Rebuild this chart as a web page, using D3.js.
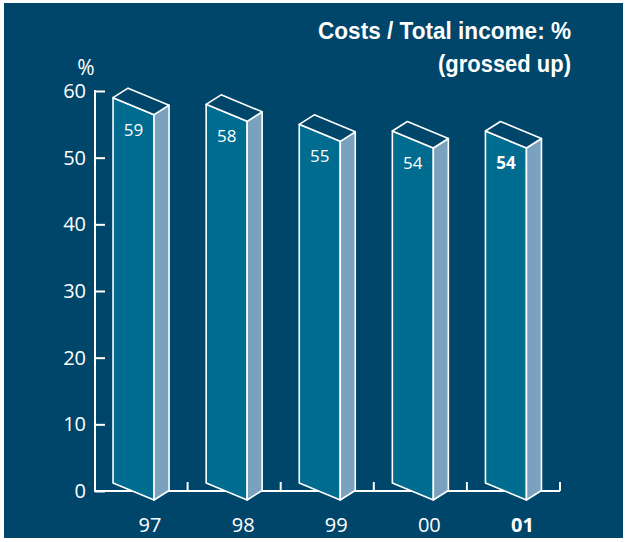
<!DOCTYPE html>
<head>
    <title>Costs / Total income</title>
    <style>
        body{
            margin: 0;
            background: white;
        }
        svg{
            display: block;
        }
    </style>
    <script src="https://d3js.org/d3.v7.min.js"></script>
</head>
<body>
    <svg width="626" height="542"></svg>

    <script>
        // chart data
        var years = ["97", "98", "99", "00", "01"];
        var values = [59, 58, 55, 54, 54];
        var boldYears = ["01"];
        var yTicks = [0, 10, 20, 30, 40, 50, 60];

        var bg = "#00466a";
        var front = "#006c8f";
        var side = "#7aa2bf";
        var font = "'Open Sans', 'Noto Sans', sans-serif";

        var svg = d3.select("svg");

        // dark panel with thin white margin
        svg.append("rect")
            .attr("x", 4).attr("y", 3)
            .attr("width", 619).attr("height", 535)
            .attr("fill", bg);

        var x = d3.scaleBand().domain(years).range([94.5, 560]);
        var y = d3.scaleLinear().domain([0, 60]).range([491, 91]);

        // y axis, ticks point inwards
        var yAxis = svg.append("g")
            .attr("transform", "translate(95,0)")
            .call(d3.axisLeft(y).tickValues(yTicks).tickSizeInner(-10).tickSizeOuter(0).tickPadding(9));
        yAxis.select(".domain").remove();
        yAxis.selectAll(".tick line").attr("stroke", "white").attr("stroke-width", 2);
        yAxis.selectAll(".tick text")
            .attr("fill", "white")
            .style("font-family", font)
            .style("font-size", "20px");
        svg.append("line")
            .attr("x1", 95).attr("x2", 95)
            .attr("y1", y(60) - 1).attr("y2", y(0) + 1)
            .attr("stroke", "white").attr("stroke-width", 2);

        // baseline and category separators
        svg.append("line")
            .attr("x1", 94).attr("x2", x.range()[1])
            .attr("y1", y(0)).attr("y2", y(0))
            .attr("stroke", "white").attr("stroke-width", 2);
        svg.selectAll(".sep")
            .data(years)
            .enter().append("line")
            .attr("x1", d => x(d) + x.bandwidth())
            .attr("x2", d => x(d) + x.bandwidth())
            .attr("y1", y(0)).attr("y2", y(0) - 9)
            .attr("stroke", "white").attr("stroke-width", 2);

        // 3d bars: front width, depth offset, slant of the front face
        var fw = 41, dx = 15, dy = -9.5, slant = 17;
        var bars = svg.selectAll(".bar")
            .data(years.map((d, i) => ({year: d, value: values[i]})))
            .enter().append("g");

        function x0(d){ return x(d.year) + (x.bandwidth() - fw - dx) / 2; }

        bars.append("path")    // front
            .attr("fill", front)
            .attr("d", d => {
                var a = x0(d), t = y(d.value), b = y(0);
                return "M" + a + "," + t + " L" + (a + fw) + "," + (t + slant) +
                    " L" + (a + fw) + "," + (b + 9) + " L" + a + "," + (b - 8) + "Z";
            });
        bars.append("path")    // side
            .attr("fill", side)
            .attr("d", d => {
                var a = x0(d) + fw, t = y(d.value) + slant, b = y(0) + 9;
                return "M" + a + "," + t + " L" + (a + dx) + "," + (t + dy) +
                    " L" + (a + dx) + "," + (b + dy) + " L" + a + "," + b + "Z";
            });
        bars.append("path")    // top
            .attr("fill", bg)
            .attr("d", d => {
                var a = x0(d), t = y(d.value);
                return "M" + a + "," + t + " L" + (a + dx) + "," + (t + dy) +
                    " L" + (a + fw + dx) + "," + (t + slant + dy) + " L" + (a + fw) + "," + (t + slant) + "Z";
            });
        bars.selectAll("path")
            .attr("stroke", "white")
            .attr("stroke-width", 1.6)
            .attr("stroke-linejoin", "round");

        // values inside the bars
        bars.append("text")
            .attr("x", d => x0(d) + fw / 2)
            .attr("y", d => y(d.value) + 38)
            .attr("text-anchor", "middle")
            .attr("fill", "white")
            .style("font-family", font)
            .style("font-size", "17px")
            .style("font-weight", d => boldYears.includes(d.year) ? "bold" : "normal")
            .text(d => d.value);

        // category labels
        svg.selectAll(".cat")
            .data(years)
            .enter().append("text")
            .attr("x", d => x(d) + x.bandwidth() / 2 + 9)
            .attr("y", 532)
            .attr("text-anchor", "middle")
            .attr("fill", "white")
            .style("font-family", font)
            .style("font-size", "20px")
            .style("font-weight", d => boldYears.includes(d) ? "bold" : "normal")
            .text(d => d);

        svg.append("text")
            .attr("x", 86).attr("y", 75)
            .attr("text-anchor", "middle")
            .attr("fill", "white")
            .style("font-family", font)
            .style("font-size", "21px")
            .text("%");

        // title, squeezed to look condensed
        var title = svg.append("g")
            .attr("fill", "white")
            .style("font-family", "'Liberation Sans', Arial, sans-serif")
            .style("font-weight", "bold")
            .style("font-size", "24px");
        title.append("text").attr("x", 318).attr("y", 39)
            .attr("textLength", 253).attr("lengthAdjust", "spacingAndGlyphs")
            .text("Costs / Total income: %");
        title.append("text").attr("x", 438).attr("y", 72)
            .attr("textLength", 133).attr("lengthAdjust", "spacingAndGlyphs")
            .text("(grossed up)");
    </script>
</body>
</html>
